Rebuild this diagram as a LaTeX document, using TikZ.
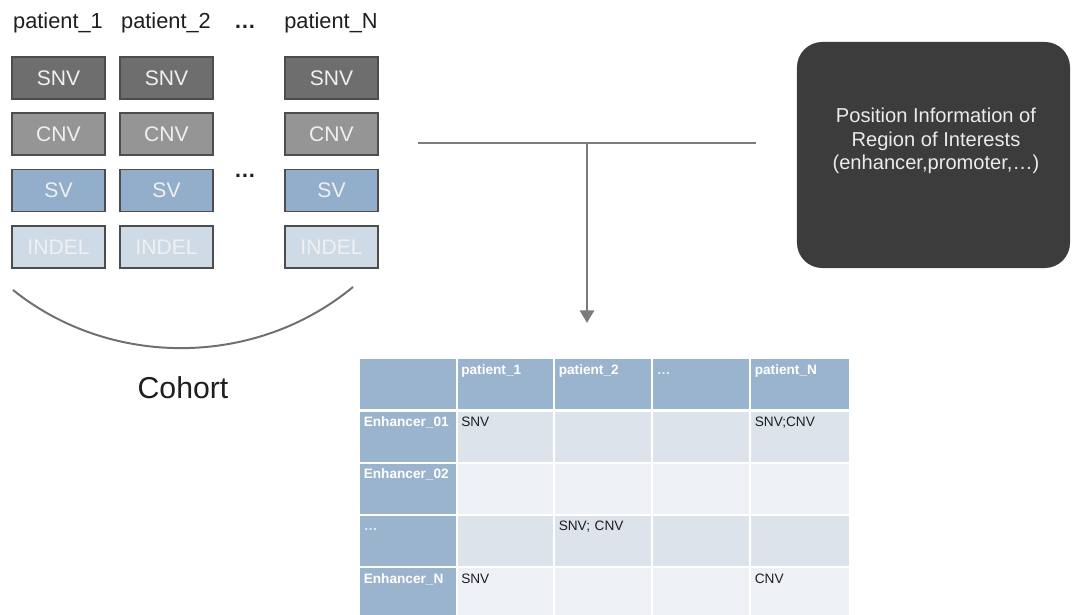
\documentclass[tikz,border=0pt]{standalone}
\usepackage{fontspec}
\setmainfont{Liberation Sans}
\usetikzlibrary{arrows.meta}

\definecolor{snvgray}{HTML}{6E6E6E}
\definecolor{cnvgray}{HTML}{959595}
\definecolor{svblue}{HTML}{93AECA}
\definecolor{indelblue}{HTML}{CEDBE7}
\definecolor{boxline}{HTML}{4D4D4D}
\definecolor{roidark}{HTML}{3C3C3C}
\definecolor{linegray}{HTML}{7B7B7B}
\definecolor{hdrblue}{HTML}{9BB4CD}
\definecolor{rowdark}{HTML}{DCE3EB}
\definecolor{rowlight}{HTML}{EDF1F5}
\definecolor{inkgray}{HTML}{1E1E1E}

\begin{document}
\begin{tikzpicture}[
    x=0.025cm, y=-0.025cm,
    varbox/.style={
        rectangle,
        minimum width=2.325cm,
        minimum height=1.05cm,
        draw=boxline,
        line width=1.4pt,
        text=white!94!black,
        font=\fontsize{15}{18}\selectfont
    },
    patientlabel/.style={anchor=base, text=inkgray, font=\fontsize{15.5}{18}\selectfont},
    cell/.style={
        rectangle,
        anchor=north west,
        inner xsep=2.5pt,
        inner ysep=3pt,
        text width=62.9pt,
        text height=7.5pt,
        text depth=22pt,
        align=left,
        fill=rowdark,
        text=inkgray,
        font=\fontsize{9.7}{11}\selectfont
    },
    lastcell/.style={cell, text width=64.7pt},
    hdr/.style={fill=hdrblue, text=white, font=\fontsize{9.7}{11}\selectfont\bfseries},
    light/.style={fill=rowlight},
    link/.style={draw=linegray, line width=2pt}
]

\useasboundingbox (0,0) rectangle (1073,615);

% patients of the cohort
\node[patientlabel] (p1) at (58,29) {patient\_1};
\node[patientlabel] (p2) at (166,29) {patient\_2};
\node[patientlabel, font=\fontsize{15.5}{18}\selectfont\bfseries] (pdots) at (245,29) {\ldots};
\node[patientlabel] (pN) at (331,29) {patient\_N};

\node[varbox, fill=snvgray] (snv1) at (58.5,78) {SNV};
\node[varbox, fill=cnvgray] (cnv1) at (58.5,134) {CNV};
\node[varbox, fill=svblue] (sv1) at (58.5,190.5) {SV};
\node[varbox, fill=indelblue] (indel1) at (58.5,247) {INDEL};

\node[varbox, fill=snvgray] (snv2) at (166.5,78) {SNV};
\node[varbox, fill=cnvgray] (cnv2) at (166.5,134) {CNV};
\node[varbox, fill=svblue] (sv2) at (166.5,190.5) {SV};
\node[varbox, fill=indelblue] (indel2) at (166.5,247) {INDEL};

\node[varbox, fill=snvgray] (snvN) at (331.5,78) {SNV};
\node[varbox, fill=cnvgray] (cnvN) at (331.5,134) {CNV};
\node[varbox, fill=svblue] (svN) at (331.5,190.5) {SV};
\node[varbox, fill=indelblue] (indelN) at (331.5,247) {INDEL};

\node[patientlabel, font=\fontsize{15.5}{18}\selectfont\bfseries] (middots) at (245,178) {\ldots};

% cohort brace
\draw[draw=linegray!90!black, line width=1.4pt] (13,290) .. controls (110,368) and (255,368) .. (353,287);
\node[text=inkgray, font=\fontsize{21.5}{24}\selectfont] (cohort) at (183,388) {Cohort};

% region of interest
\node[rectangle, rounded corners=18pt, fill=roidark, minimum width=6.825cm, minimum height=5.65cm] (roi) at (933.5,155) {};
\node[align=center, text=white!92!black, font=\fontsize{14.3}{16.6}\selectfont] (roitext) at (936,141)
    {Position Information of\\Region of Interests\\(enhancer,promoter,\ldots)};

% merge line and arrow
\coordinate (mergel) at (418,143);
\coordinate (merger) at (756,143);
\coordinate (merge) at (587,143);
\coordinate (tabletop) at (587,323);
\draw[link] (mergel) -- (merger);
\draw[link, -{Triangle[width=10pt,length=9pt]}] (merge) -- (tabletop);

% result table
\node[cell, hdr] (h0) at (360,359) {};
\node[cell, hdr] (h1) at (457.5,359) {patient\_1};
\node[cell, hdr] (h2) at (555,359) {patient\_2};
\node[cell, hdr, text=white!75!hdrblue] (h3) at (653,359) {\ldots};
\node[lastcell, hdr] (h4) at (751,359) {patient\_N};

\node[cell, hdr] (e1) at (360,411.5) {Enhancer\_01};
\node[cell] (c11) at (457.5,411.5) {SNV};
\node[cell] (c12) at (555,411.5) {};
\node[cell] (c13) at (653,411.5) {};
\node[lastcell] (c14) at (751,411.5) {SNV;CNV};

\node[cell, hdr] (e2) at (360,463.7) {Enhancer\_02};
\node[cell, light] (c21) at (457.5,463.7) {};
\node[cell, light] (c22) at (555,463.7) {};
\node[cell, light] (c23) at (653,463.7) {};
\node[lastcell, light] (c24) at (751,463.7) {};

\node[cell, hdr, text=white!75!hdrblue] (e3) at (360,515.9) {\ldots};
\node[cell] (c31) at (457.5,515.9) {};
\node[cell] (c32) at (555,515.9) {SNV; CNV};
\node[cell] (c33) at (653,515.9) {};
\node[lastcell] (c34) at (751,515.9) {};

\node[cell, hdr] (e4) at (360,568.1) {Enhancer\_N};
\node[cell, light] (c41) at (457.5,568.1) {SNV};
\node[cell, light] (c42) at (555,568.1) {};
\node[cell, light] (c43) at (653,568.1) {};
\node[lastcell, light] (c44) at (751,568.1) {CNV};

\end{tikzpicture}
\end{document}
